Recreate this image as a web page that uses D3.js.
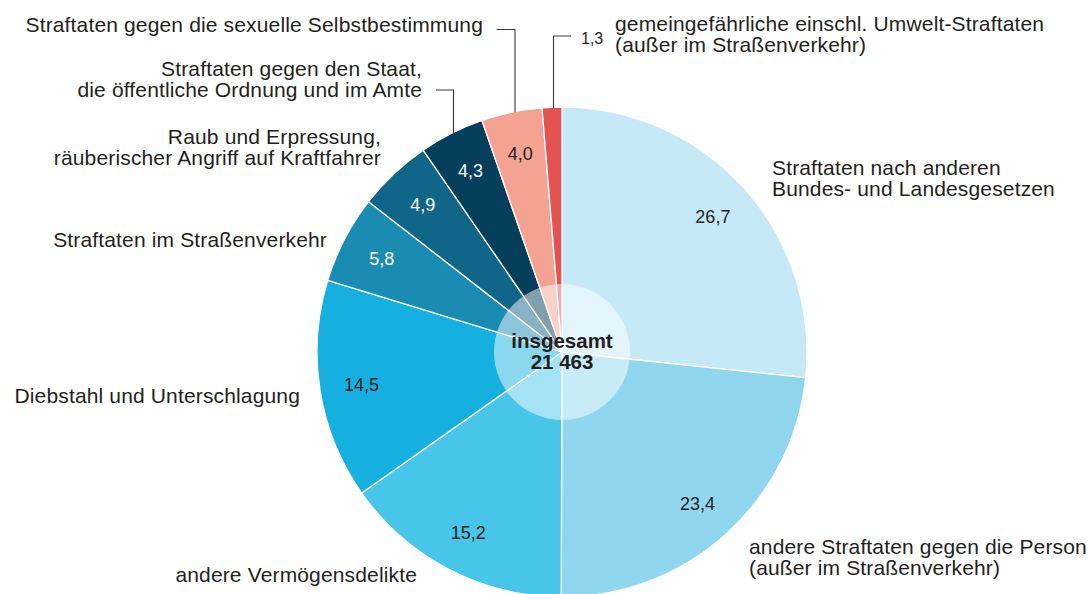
<!DOCTYPE html>
<html>
<head>
<meta charset="utf-8">
<script src="https://cdn.jsdelivr.net/npm/d3@7"></script>
<style>
  html, body { margin: 0; padding: 0; background: #fff; }
  svg { display: block; }
  text { font-family: "Liberation Sans", Arial, Helvetica, sans-serif; fill: #231f20; }
</style>
</head>
<body>
<svg id="chart" width="1088" height="594"></svg>
<script>
// ---- data ----
const categories = [
  "Straftaten nach anderen Bundes- und Landesgesetzen",
  "andere Straftaten gegen die Person (außer im Straßenverkehr)",
  "andere Vermögensdelikte",
  "Diebstahl und Unterschlagung",
  "Straftaten im Straßenverkehr",
  "Raub und Erpressung, räuberischer Angriff auf Kraftfahrer",
  "Straftaten gegen den Staat, die öffentliche Ordnung und im Amte",
  "Straftaten gegen die sexuelle Selbstbestimmung",
  "gemeingefährliche einschl. Umwelt-Straftaten (außer im Straßenverkehr)"
];
const values = [26.7, 23.4, 15.2, 14.5, 5.8, 4.9, 4.3, 4.0, 1.3];
const valueLabels = ["26,7", "23,4", "15,2", "14,5", "5,8", "4,9", "4,3", "4,0", "1,3"];
const labelLines = [
  ["Straftaten nach anderen", "Bundes- und Landesgesetzen"],
  ["andere Straftaten gegen die Person", "(außer im Straßenverkehr)"],
  ["andere Vermögensdelikte"],
  ["Diebstahl und Unterschlagung"],
  ["Straftaten im Straßenverkehr"],
  ["Raub und Erpressung,", "räuberischer Angriff auf Kraftfahrer"],
  ["Straftaten gegen den Staat,", "die öffentliche Ordnung und im Amte"],
  ["Straftaten gegen die sexuelle Selbstbestimmung"],
  ["gemeingefährliche einschl. Umwelt-Straftaten", "(außer im Straßenverkehr)"]
];
const totalLabel = ["insgesamt", "21 463"];

// ---- styles / layout ----
const colors = ["#c6e9f8", "#8fd6ee", "#48c6ea", "#15b0e0", "#1a8cb4", "#0f6688", "#053f5b", "#f4a393", "#e45352"];
const valueTextColors = ["#231f20", "#231f20", "#231f20", "#231f20", "#ffffff", "#ffffff", "#ffffff", "#231f20", "#231f20"];
const cx = 562, cy = 352, R = 245, rInner = 68, rValue = 203;
const fontSize = 21, lineH = 21.4, letterSp = 0.15;
// label anchor: x, first baseline y, text-anchor
const labelPos = [
  [772, 175, "start"],
  [749, 554, "start"],
  [417, 582, "end"],
  [300, 403, "end"],
  [327, 247, "end"],
  [381, 144, "end"],
  [422, 76, "end"],
  [483, 32, "end"],
  [615, 30.5, "start"]
];

const svg = d3.select("#chart");
const g = svg.append("g").attr("transform", `translate(${cx},${cy})`);

const pie = d3.pie().sort(null).value(d => d).startAngle(0).endAngle(2 * Math.PI);
const arcs = pie(values);
const arc = d3.arc().innerRadius(0).outerRadius(R);

g.selectAll("path.slice").data(arcs).enter().append("path")
  .attr("class", "slice")
  .attr("d", arc)
  .attr("fill", (d, i) => colors[i])
  .attr("stroke", "#fff")
  .attr("stroke-width", 1.3)
  .attr("stroke-linejoin", "round");

// inner translucent circle
g.append("circle").attr("r", rInner).attr("fill", "#fff").attr("fill-opacity", 0.5);

// value labels inside slices (except the smallest)
const valArc = d3.arc().innerRadius(rValue).outerRadius(rValue);
g.selectAll("text.val").data(arcs.slice(0, 8)).enter().append("text")
  .attr("class", "val")
  .attr("x", d => valArc.centroid(d)[0])
  .attr("y", d => valArc.centroid(d)[1] + 6.5)
  .attr("text-anchor", "middle")
  .attr("font-size", 18)
  .style("fill", (d, i) => valueTextColors[i])
  .text((d, i) => valueLabels[i]);

// center total
g.append("text").attr("x", 0).attr("y", -4).attr("text-anchor", "middle")
  .attr("font-size", 20.5).attr("font-weight", "bold").text(totalLabel[0]);
g.append("text").attr("x", 0).attr("y", 17).attr("text-anchor", "middle")
  .attr("font-size", 20.5).attr("font-weight", "bold").text(totalLabel[1]);

// category labels
labelLines.forEach((lines, i) => {
  const [x, y, anchor] = labelPos[i];
  const t = svg.append("text").attr("x", x).attr("y", y)
    .attr("text-anchor", anchor).attr("font-size", fontSize)
    .attr("letter-spacing", letterSp);
  lines.forEach((ln, j) => {
    t.append("tspan").attr("x", x).attr("y", y + j * lineH).text(ln);
  });
});

// leader lines: hit pie edge at the given x
function edgeY(x) { return cy - Math.sqrt(R * R - (x - cx) * (x - cx)); }
const leaders = [
  { x0: 496.5, y0: 29.5, x1: 515 },   // sexuelle Selbstbestimmung -> 4,0
  { x0: 436, y0: 90, x1: 453.5 },     // Staat -> 4,3
  { x0: 571, y0: 36, x1: 553.5 }      // 1,3 -> gemeingefährliche
];
leaders.forEach(l => {
  svg.append("path")
    .attr("d", `M${l.x0},${l.y0}H${l.x1}V${edgeY(l.x1) + 1}`)
    .attr("fill", "none").attr("stroke", "#3a3a3a").attr("stroke-width", 1.1);
});

// small value label outside for 1,3
svg.append("text").attr("x", 581).attr("y", 44).attr("font-size", 16).text(valueLabels[8]);
</script>
</body>
</html>
